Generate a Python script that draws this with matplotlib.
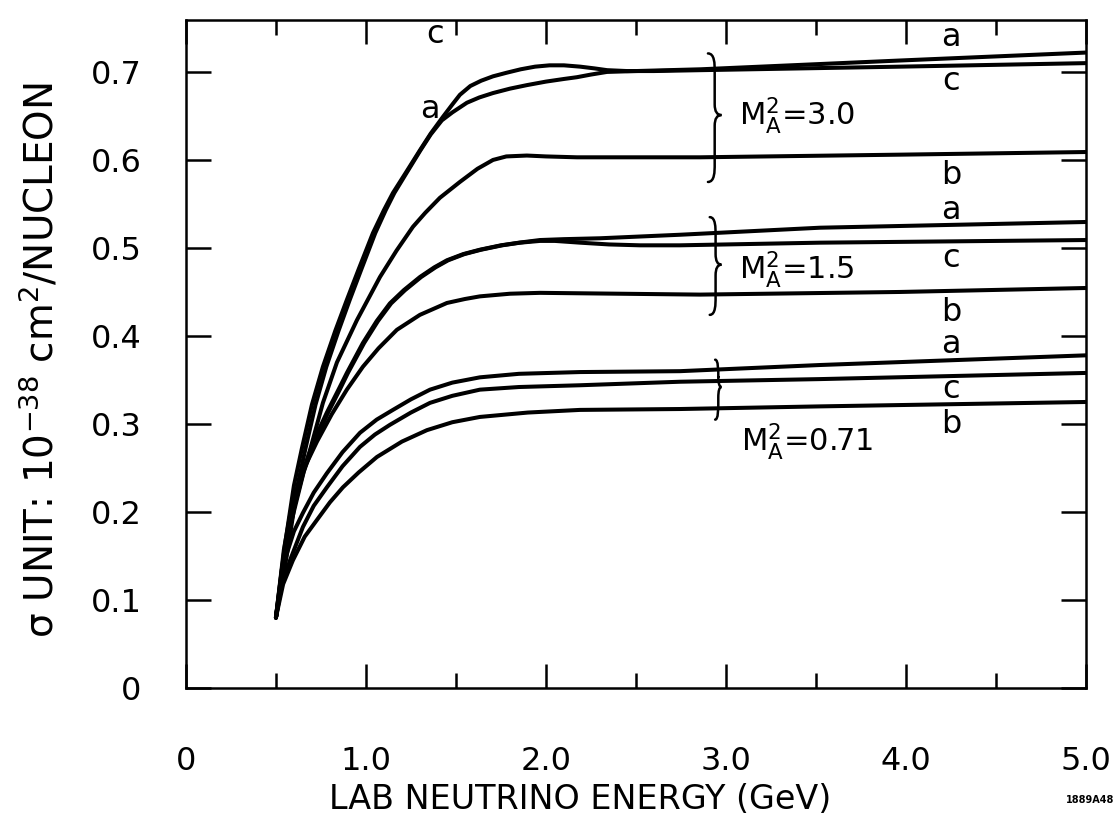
import numpy as np
import matplotlib
matplotlib.use("Agg")
import matplotlib.pyplot as plt
from matplotlib.path import Path
from matplotlib.patches import PathPatch
from matplotlib.ticker import FixedLocator

plt.rcParams['font.family'] = ['DejaVu Sans']
plt.rcParams['mathtext.default'] = 'regular'

# ---------------- data ----------------
# M_A^2 = 3.0
e_c30 = [0.50, 0.55, 0.60, 0.644, 0.70, 0.761, 0.83, 0.894, 0.96, 1.039, 1.10, 1.15, 1.22, 1.30, 1.36, 1.428,
         1.48, 1.522, 1.58, 1.64, 1.706, 1.78, 1.86, 1.94, 2.02, 2.10, 2.19, 2.27, 2.34, 2.45, 2.60, 2.86, 3.97, 5.0]
s_c30 = [0.080, 0.1625, 0.230, 0.272, 0.322, 0.365, 0.406, 0.441, 0.476, 0.517, 0.543, 0.5625, 0.585, 0.611, 0.630, 0.649,
         0.663, 0.674, 0.684, 0.690, 0.695, 0.699, 0.703, 0.706, 0.7075, 0.7075, 0.706, 0.704, 0.702, 0.701, 0.701, 0.702, 0.706, 0.710]
e_a30 = [0.50, 0.57, 0.62, 0.664, 0.72, 0.78, 0.848, 0.91, 0.975, 1.052, 1.11, 1.158, 1.225, 1.303, 1.36, 1.422,
         1.48, 1.561, 1.63, 1.706, 1.80, 1.894, 2.00, 2.10, 2.172, 2.25, 2.339, 2.50, 2.86, 3.97, 5.0]
s_a30 = [0.080, 0.1625, 0.230, 0.272, 0.322, 0.365, 0.406, 0.441, 0.476, 0.517, 0.543, 0.5625, 0.585, 0.611, 0.629, 0.645,
         0.654, 0.665, 0.671, 0.676, 0.681, 0.685, 0.689, 0.692, 0.694, 0.697, 0.700, 0.701, 0.703, 0.713, 0.722]
e_b30 = [0.50, 0.55, 0.60, 0.65, 0.689, 0.761, 0.839, 0.95, 1.078, 1.17, 1.261, 1.33, 1.411, 1.522, 1.62, 1.706,
         1.78, 1.894, 2.00, 2.172, 2.856, 3.967, 5.0]
s_b30 = [0.080, 0.150, 0.205, 0.243, 0.270, 0.324, 0.370, 0.418, 0.467, 0.497, 0.524, 0.540, 0.557, 0.575, 0.590, 0.600,
         0.604, 0.605, 0.604, 0.603, 0.603, 0.606, 0.609]

# M_A^2 = 1.5
e_a15 = [0.50, 0.533, 0.578, 0.65, 0.71, 0.783, 0.85, 0.894, 0.983, 1.06, 1.133, 1.21, 1.30, 1.38, 1.45, 1.54,
         1.633, 1.75, 1.85, 1.967, 2.10, 2.30, 2.744, 3.522, 5.0]
s_a15 = [0.080, 0.135, 0.186, 0.246, 0.281, 0.313, 0.340, 0.358, 0.392, 0.417, 0.437, 0.452, 0.467, 0.478, 0.486, 0.493,
         0.498, 0.503, 0.506, 0.509, 0.510, 0.511, 0.515, 0.523, 0.5295]
e_c15 = [0.50, 0.536, 0.582, 0.655, 0.716, 0.79, 0.857, 0.90, 0.99, 1.067, 1.14, 1.217, 1.307, 1.387, 1.457, 1.547,
         1.64, 1.757, 1.857, 1.967, 2.05, 2.19, 2.35, 2.522, 2.744, 3.522, 5.0]
s_c15 = [0.080, 0.135, 0.186, 0.246, 0.281, 0.313, 0.340, 0.358, 0.392, 0.417, 0.437, 0.452, 0.467, 0.478, 0.486, 0.493,
         0.498, 0.503, 0.506, 0.508, 0.508, 0.506, 0.504, 0.503, 0.503, 0.506, 0.509]
e_b15 = [0.50, 0.544, 0.594, 0.66, 0.728, 0.81, 0.894, 0.983, 1.07, 1.172, 1.30, 1.45, 1.55, 1.633, 1.80, 1.967,
         2.856, 3.967, 5.0]
s_b15 = [0.080, 0.157, 0.214, 0.251, 0.280, 0.311, 0.339, 0.365, 0.386, 0.407, 0.424, 0.4375, 0.442, 0.445, 0.448, 0.449,
         0.447, 0.450, 0.4545]

# M_A^2 = 0.71
e_a07 = [0.50, 0.53, 0.561, 0.60, 0.65, 0.71, 0.783, 0.87, 0.967, 1.06, 1.15, 1.25, 1.356, 1.48, 1.633, 1.85,
         2.189, 2.744, 3.522, 5.0]
s_a07 = [0.080, 0.122, 0.153, 0.178, 0.199, 0.222, 0.244, 0.268, 0.290, 0.305, 0.316, 0.328, 0.339, 0.347, 0.353, 0.357,
         0.359, 0.360, 0.367, 0.378]
e_c07 = [0.50, 0.53, 0.578, 0.65, 0.71, 0.783, 0.87, 0.967, 1.05, 1.133, 1.25, 1.356, 1.48, 1.633, 1.85, 2.189,
         2.744, 3.522, 5.0]
s_c07 = [0.080, 0.115, 0.145, 0.183, 0.207, 0.228, 0.252, 0.274, 0.288, 0.299, 0.313, 0.324, 0.332, 0.339, 0.342, 0.344,
         0.348, 0.351, 0.358]
e_b07 = [0.50, 0.54, 0.594, 0.66, 0.728, 0.80, 0.872, 0.96, 1.061, 1.20, 1.339, 1.48, 1.633, 1.90, 2.189, 2.744,
         3.522, 5.0]
s_b07 = [0.080, 0.118, 0.145, 0.172, 0.191, 0.211, 0.228, 0.245, 0.2625, 0.280, 0.293, 0.302, 0.308, 0.313, 0.316, 0.317,
         0.320, 0.325]

x_tick_labels = ["0", "1.0", "2.0", "3.0", "4.0", "5.0"]
y_tick_labels = ["0", "0.1", "0.2", "0.3", "0.4", "0.5", "0.6", "0.7"]
group_labels = ["3.0", "1.5", "0.71"]

# ---------------- figure ----------------
fig = plt.figure(figsize=(11.2, 8.23), dpi=100)
ax = fig.add_axes([0.166, 0.164, 0.8036, 0.8117])
ax.set_xlim(0, 5.0)
ax.set_ylim(0, 0.759)

lw = 2.9
for e, s in [(e_a30, s_a30), (e_b30, s_b30), (e_c30, s_c30),
             (e_a15, s_a15), (e_b15, s_b15), (e_c15, s_c15),
             (e_a07, s_a07), (e_b07, s_b07), (e_c07, s_c07)]:
    ax.plot(e, s, color='black', lw=lw, solid_capstyle='round', solid_joinstyle='round')

for sp in ax.spines.values():
    sp.set_linewidth(1.8)

ax.xaxis.set_major_locator(FixedLocator([0, 1, 2, 3, 4, 5]))
ax.xaxis.set_minor_locator(FixedLocator([0.5, 1.5, 2.5, 3.5, 4.5]))
ax.set_xticklabels(x_tick_labels)
ax.yaxis.set_major_locator(FixedLocator([0, 0.1, 0.2, 0.3, 0.4, 0.5, 0.6, 0.7]))
ax.set_yticklabels(y_tick_labels)
ax.tick_params(axis='x', which='major', direction='in', length=17, width=1.8,
               top=True, bottom=True, labelsize=23, pad=42)
ax.tick_params(axis='x', which='minor', direction='in', length=11, width=1.8,
               top=True, bottom=True)
ax.tick_params(axis='y', which='major', direction='in', length=18, width=1.8,
               left=True, right=True, labelsize=23, pad=32)

# letter labels
lab_fs = 23
ax.text(1.383, 0.742, "c", fontsize=lab_fs, ha='center', va='center')
ax.text(1.356, 0.657, "a", fontsize=lab_fs, ha='center', va='center')
for y, t in [(0.739, "a"), (0.689, "c"), (0.582, "b"),
             (0.543, "a"), (0.488, "c"), (0.427, "b"),
             (0.390, "a"), (0.339, "c"), (0.299, "b")]:
    ax.text(4.25, y, t, fontsize=lab_fs, ha='center', va='center')

# M_A^2 labels
for x, y, g in [(3.075, 0.650, group_labels[0]), (3.075, 0.476, group_labels[1]),
                (3.085, 0.280, group_labels[2])]:
    ax.text(x, y, r"$M_A^2$" + "=" + g, fontsize=22, ha='left', va='center')

# braces
def brace(ax, x0, ytop, ymid, ybot, w):
    xm = x0 + w * 0.5
    xt = x0 + w
    verts = [(x0, ytop), (xm, ytop), (xm, ytop - 0.012), (xm, ytop - 0.02),
             (xm, ymid + 0.012), (xm, ymid), (xt, ymid),
             (xm, ymid), (xm, ymid - 0.012), (xm, ybot + 0.02),
             (xm, ybot + 0.012), (xm, ybot), (x0, ybot)]
    codes = [Path.MOVETO, Path.CURVE4, Path.CURVE4, Path.CURVE4,
             Path.LINETO, Path.CURVE3, Path.CURVE3,
             Path.CURVE3, Path.CURVE3, Path.LINETO,
             Path.CURVE4, Path.CURVE4, Path.CURVE4]
    ax.add_patch(PathPatch(Path(verts, codes), fill=False, lw=1.8, color='black',
                           capstyle='round'))

brace(ax, 2.90, 0.721, 0.651, 0.575, 0.075)
brace(ax, 2.91, 0.535, 0.481, 0.424, 0.065)
brace(ax, 2.94, 0.373, 0.342, 0.305, 0.035)

fig.text(0.036, 0.563, r"σ UNIT: 10$^{-38}$ cm$^{2}$/NUCLEON", rotation=90,
         fontsize=28, ha='center', va='center')
fig.text(0.518, 0.028, "LAB NEUTRINO ENERGY (GeV)", fontsize=24, ha='center', va='center')
fig.text(0.973, 0.028, "1889A48", fontsize=7, fontweight='bold', ha='center', va='center')

fig.savefig("out.png", dpi=100)
